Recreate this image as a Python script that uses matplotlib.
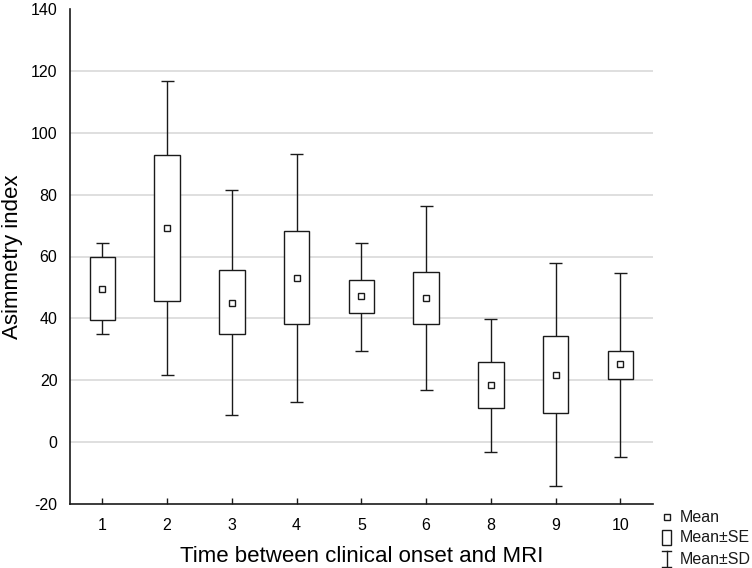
import matplotlib
matplotlib.use("Agg")
import matplotlib.pyplot as plt
from matplotlib.lines import Line2D
from matplotlib.patches import Rectangle
import numpy as np

plt.rcParams['font.family'] = ['Liberation Sans', 'DejaVu Sans']
plt.rcParams['axes.unicode_minus'] = False

categories = ["1", "2", "3", "4", "5", "6", "8", "9", "10"]
mean = [49.5, 69.1, 45.1, 53.1, 47.1, 46.7, 18.6, 21.7, 25.1]
se_high = [59.9, 92.7, 55.5, 68.2, 52.3, 54.9, 26.0, 34.3, 29.4]
se_low = [39.4, 45.6, 34.8, 38.2, 41.6, 38.2, 11.0, 9.4, 20.4]
sd_high = [64.4, 116.6, 81.6, 93.1, 64.3, 76.2, 39.9, 57.8, 54.6]
sd_low = [34.9, 21.7, 8.7, 13.0, 29.6, 16.9, -3.2, -14.1, -4.8]
yticks = [-20, 0, 20, 40, 60, 80, 100, 120, 140]

fig = plt.figure(figsize=(7.52, 5.68), dpi=100)
ax = fig.add_axes([70/752, 64/568, 582.7/752, 495/568])

x = np.arange(1, len(categories) + 1)
ink = '#1a1a1a'

for yv in yticks[1:-1]:
    ax.axhline(yv, color='#d9d9d9', lw=1.2, zorder=0)

ax.vlines(x, sd_low, se_low, color=ink, lw=1.0, zorder=1)
ax.vlines(x, se_high, sd_high, color=ink, lw=1.0, zorder=1)
ax.hlines(sd_low, x - 0.1, x + 0.1, color=ink, lw=1.0, zorder=1)
ax.hlines(sd_high, x - 0.1, x + 0.1, color=ink, lw=1.0, zorder=1)
ax.bar(x, np.array(se_high) - np.array(se_low), bottom=se_low, width=0.395,
       facecolor='white', edgecolor=ink, lw=1.0, zorder=2)
ax.plot(x, mean, ls='', marker='s', ms=5, mfc='white', mec=ink, mew=1.0, zorder=3)

ax.set_xlim(0.5, len(categories) + 0.5)
ax.set_ylim(-20, 140)
ax.set_xticks(x)
ax.set_xticklabels(categories)
ax.set_yticks(yticks)
ax.tick_params(axis='x', direction='in', length=4, width=1.0, color=ink,
               labelsize=11.5, pad=10)
ax.tick_params(axis='y', length=0, labelsize=11.5, pad=9)
for s in ['top', 'right']:
    ax.spines[s].set_visible(False)
for s in ['left', 'bottom']:
    ax.spines[s].set_color(ink)
    ax.spines[s].set_linewidth(1.2)

ax.set_xlabel("Time between clinical onset and MRI", fontsize=16)
ax.xaxis.set_label_coords(0.5, -0.085)
ax.set_ylabel("Asimmetry index", fontsize=16)
ax.yaxis.set_label_coords(-0.08, 0.5)

# legend (figure coordinates, pixels from top-left)
def fx(px):
    return px / 752
def fy(py):
    return 1 - py / 568

fig.add_artist(Line2D([fx(666.5)], [fy(517)], marker='s', ms=4.5, mfc='white',
                      mec=ink, mew=1.0, ls='', transform=fig.transFigure))
fig.add_artist(Rectangle((fx(661.5), fy(545)), 9.5/752, 15/568, facecolor='white',
                         edgecolor=ink, lw=1.0, transform=fig.transFigure))
fig.add_artist(Line2D([fx(666.5), fx(666.5)], [fy(550.5), fy(566.5)], color=ink, lw=1.0,
                      transform=fig.transFigure))
fig.add_artist(Line2D([fx(662), fx(671)], [fy(550.5), fy(550.5)], color=ink, lw=1.0,
                      transform=fig.transFigure))
fig.add_artist(Line2D([fx(662), fx(671)], [fy(566.5), fy(566.5)], color=ink, lw=1.0,
                      transform=fig.transFigure))
for label, py in [("Mean", 517), ("Mean±SE", 538), ("Mean±SD", 559)]:
    fig.text(fx(680), fy(py), label, fontsize=11.5, va='center', ha='left', color=ink)

fig.savefig("out.png", dpi=100)
